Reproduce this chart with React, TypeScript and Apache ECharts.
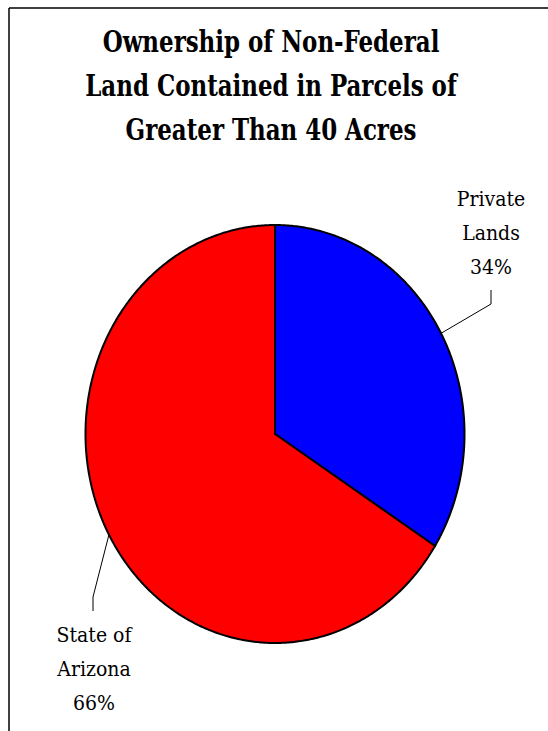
import React, { useEffect, useRef } from "react";
import * as echarts from "echarts";

const titleLines = ["Ownership of Non-Federal", "Land Contained in Parcels of", "Greater Than 40 Acres"];
const categories = ["Private\nLands", "State of\nArizona"];
const values = [34, 66];
const colors = ["#0000FF", "#FF0000"];

// layout (positions of leader lines / labels)
const labelLayout = [
  { elbow: [491, 304], end: [491, 290], text: [491, 233] },
  { elbow: [93, 597], end: [93, 611], text: [94, 669] },
];
const CX = 275;
const CY = 434;
const RX = 189.5;
const RY = 209;
const FONT = "DejaVu Serif Condensed";

export default function App() {
  const ref = useRef<HTMLDivElement>(null);
  useEffect(() => {
    if (!ref.current) return;
    const chart = echarts.init(ref.current, null, { renderer: "svg" });
    const total = values.reduce((a, b) => a + b, 0);
    chart.setOption({
      animation: false,
      backgroundColor: "#fff",
      graphic: [
        { type: "line", shape: { x1: 9, y1: 8, x2: 548, y2: 8 }, style: { stroke: "#000", lineWidth: 1.5 } },
        { type: "line", shape: { x1: 9, y1: 8, x2: 9, y2: 731 }, style: { stroke: "#000", lineWidth: 1.5 } },
        {
          type: "text",
          x: 271,
          y: 20,
          scaleX: 0.85,
          style: {
            text: titleLines.join("\n"),
            align: "center",
            verticalAlign: "top",
            fontFamily: FONT,
            fontWeight: "bold",
            fontSize: 30,
            lineHeight: 44,
            fill: "#000",
          },
        },
      ],
      series: [
        {
          type: "custom",
          coordinateSystem: "none",
          data: values.map((v, i) => ({ name: categories[i], value: v })),
          renderItem: (params: any, api: any) => {
            const i = params.dataIndex;
            const v = api.value(0);
            let before = 0;
            for (let j = 0; j < i; j++) before += values[j];
            const a0 = (before / total) * Math.PI * 2;
            const a1 = ((before + v) / total) * Math.PI * 2;
            const pt = (a: number) => [CX + RX * Math.sin(a), CY - RY * Math.cos(a)];
            const pts: number[][] = [[CX, CY]];
            const n = Math.max(2, Math.ceil((a1 - a0) / (Math.PI / 360)));
            for (let k = 0; k <= n; k++) pts.push(pt(a0 + ((a1 - a0) * k) / n));
            const mid = (a0 + a1) / 2;
            const edge = pt(mid);
            const lay = labelLayout[i];
            const pct = Math.round((v / total) * 100) + "%";
            return {
              type: "group",
              children: [
                {
                  type: "polygon",
                  shape: { points: pts },
                  style: { fill: colors[i], stroke: "#000", lineWidth: 2, lineJoin: "miter" },
                },
                {
                  type: "polyline",
                  shape: { points: [edge, lay.elbow, lay.end] },
                  style: { stroke: "#000", lineWidth: 1, fill: null },
                },
                {
                  type: "text",
                  x: lay.text[0],
                  y: lay.text[1],
                  style: {
                    text: categories[i] + "\n" + pct,
                    align: "center",
                    verticalAlign: "middle",
                    fontFamily: FONT,
                    fontSize: 21,
                    lineHeight: 34,
                    fill: "#000",
                  },
                },
              ],
            };
          },
        },
      ],
    });
    return () => chart.dispose();
  }, []);
  return <div ref={ref} style={{ position: "absolute", left: 0, top: 0, width: 548, height: 731 }} />;
}
